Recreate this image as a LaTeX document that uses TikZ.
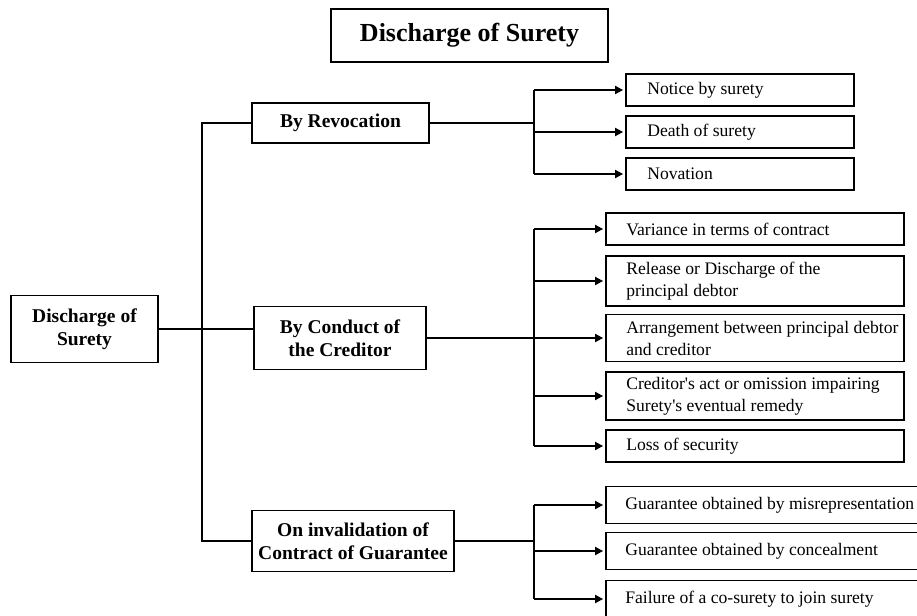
\documentclass[tikz,border=0pt]{standalone}
\usepackage{fontspec}
\setmainfont{Liberation Serif}
\usetikzlibrary{arrows.meta}
\tikzset{
  ln/.style={line width=1.8pt},
  boxed/.style={draw, line width=1.8pt, inner sep=0pt},
  titlebox/.style={boxed, font=\fontsize{26}{30}\selectfont\bfseries},
  midbox/.style={boxed, align=center, font=\fontsize{19.5}{23}\selectfont\bfseries},
  leafbox/.style={boxed},
  leaftext/.style={anchor=west, align=left, inner sep=0pt, font=\fontsize{17.6}{22}\selectfont},
  arr/.style={line width=1.8pt, -{Triangle[length=8pt,width=8pt]}, shorten >=2pt}
}
\begin{document}
\begin{tikzpicture}[x=1pt,y=-1pt]
\useasboundingbox (0,0) rectangle (917,615);
\fill[white] (0,0) rectangle (917,615);

% title
\node[titlebox, minimum width=277pt, minimum height=53pt] (title) at (469.5,35.5) {Discharge of Surety};

% root
\node[midbox, minimum width=147pt, minimum height=67pt] (ds) at (84.5,329) {Discharge of\\Surety};

% middle level
\node[midbox, minimum width=177pt, minimum height=40pt] (rev) at (340.5,123) {By Revocation};
\node[midbox, minimum width=172pt, minimum height=63pt] (cond) at (340,338) {By Conduct of\\the Creditor};
\node[midbox, minimum width=202pt, minimum height=61pt] (inv) at (353,541) {On invalidation of\\Contract of Guarantee};

% junction coordinates
\coordinate (trunk) at (202,0);
\coordinate (jr) at (534,0);
\coordinate (jc) at (534,0);
\coordinate (ji) at (534,0);

% revocation leaves
\node[leafbox, minimum width=228pt, minimum height=32pt] (r1) at (740,90) {};
\node[leafbox, minimum width=228pt, minimum height=32pt] (r2) at (740,132) {};
\node[leafbox, minimum width=228pt, minimum height=32pt] (r3) at (740,174) {};
\node[leaftext] (r1t) at ([xshift=22pt]r1.west) {Notice by surety};
\node[leaftext] (r2t) at ([xshift=22pt]r2.west) {Death of surety};
\node[leaftext] (r3t) at ([xshift=22pt]r3.west) {Novation};

% conduct leaves
\node[leafbox, minimum width=298pt, minimum height=32pt] (c1) at (755,229) {};
\node[leafbox, minimum width=298pt, minimum height=50pt] (c2) at (755,281) {};
\node[leafbox, minimum width=298pt, minimum height=47pt] (c3) at (755,338) {};
\node[leafbox, minimum width=298pt, minimum height=48pt] (c4) at (755,396) {};
\node[leafbox, minimum width=298pt, minimum height=32pt] (c5) at (755,446) {};
\node[leaftext] (c1t) at ([xshift=21pt]c1.west) {Variance in terms of contract};
\node[leaftext] (c2t) at ([xshift=21pt]c2.west) {Release or Discharge of the\\principal debtor};
\node[leaftext] (c3t) at ([xshift=21pt]c3.west) {Arrangement between principal debtor\\and creditor};
\node[leaftext] (c4t) at ([xshift=21pt]c4.west) {Creditor\textquotesingle s act or omission impairing\\Surety\textquotesingle s eventual remedy};
\node[leaftext] (c5t) at ([xshift=21pt]c5.west) {Loss of security};

% invalidation leaves
\node[leafbox, minimum width=340pt, minimum height=37pt] (g1) at (776,505) {};
\node[leafbox, minimum width=340pt, minimum height=37pt] (g2) at (776,551) {};
\node[leafbox, minimum width=340pt, minimum height=37pt] (g3) at (776,599) {};
\node[leaftext] (g1t) at ([xshift=20pt]g1.west) {Guarantee obtained by misrepresentation};
\node[leaftext] (g2t) at ([xshift=20pt]g2.west) {Guarantee obtained by concealment};
\node[leaftext] (g3t) at ([xshift=20pt]g3.west) {Failure of a co-surety to join surety};

% root to trunk
\draw[ln] (ds.east) -- (ds.east -| cond.west);
\draw[ln] (rev.west) -- (rev.west -| trunk) -- (inv.west -| trunk) -- (inv.west);

% revocation branch
\draw[ln] (rev.east) -- (rev.east -| jr);
\draw[ln] (r1.west -| jr) -- (r3.west -| jr);
\draw[arr] (r1.west -| jr) -- (r1.west);
\draw[arr] (r2.west -| jr) -- (r2.west);
\draw[arr] (r3.west -| jr) -- (r3.west);

% conduct branch
\draw[ln] (cond.east) -- (cond.east -| jc);
\draw[ln] (c1.west -| jc) -- (c5.west -| jc);
\draw[arr] (c1.west -| jc) -- (c1.west);
\draw[arr] (c2.west -| jc) -- (c2.west);
\draw[arr] (c3.west -| jc) -- (c3.west);
\draw[arr] (c4.west -| jc) -- (c4.west);
\draw[arr] (c5.west -| jc) -- (c5.west);

% invalidation branch
\draw[ln] (inv.east) -- (inv.east -| ji);
\draw[ln] (g1.west -| ji) -- (g3.west -| ji);
\draw[arr] (g1.west -| ji) -- (g1.west);
\draw[arr] (g2.west -| ji) -- (g2.west);
\draw[arr] (g3.west -| ji) -- (g3.west);
\end{tikzpicture}
\end{document}
